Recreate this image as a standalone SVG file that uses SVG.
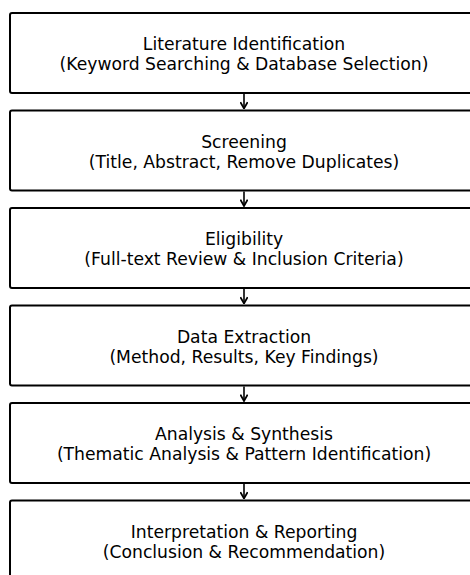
<svg xmlns="http://www.w3.org/2000/svg" width="470" height="575" viewBox="0 0 470 575">
<defs>
<style>
.box{fill:#fff;stroke:#000;stroke-width:2}
.t{font-family:"DejaVu Sans",sans-serif;font-size:17.2px;fill:#000;text-anchor:middle}
.c{stroke:#000;stroke-width:1.6;fill:none}
</style>
<marker id="ah" viewBox="0 0 10 10" refX="9" refY="5" markerWidth="8" markerHeight="8" orient="auto" markerUnits="userSpaceOnUse">
<path d="M1,0.5 L9,5 L1,9.5" fill="none" stroke="#000" stroke-width="2.2" stroke-linejoin="miter"/>
</marker>
</defs>
<rect width="470" height="575" fill="#fff"/>
<g id="connectors">
<line class="c" x1="244" y1="94" x2="244" y2="108.5" marker-end="url(#ah)"/>
<line class="c" x1="244" y1="191.5" x2="244" y2="206" marker-end="url(#ah)"/>
<line class="c" x1="244" y1="289" x2="244" y2="303.5" marker-end="url(#ah)"/>
<line class="c" x1="244" y1="386.5" x2="244" y2="401" marker-end="url(#ah)"/>
<line class="c" x1="244" y1="484" x2="244" y2="498.5" marker-end="url(#ah)"/>
</g>
<g id="n1"><rect class="box" x="10" y="13" width="470" height="80" rx="2"/>
<text class="t" x="244" y="50">Literature Identification</text>
<text class="t" x="244" y="70">(Keyword Searching &amp; Database Selection)</text></g>
<g id="n2"><rect class="box" x="10" y="110.5" width="470" height="80" rx="2"/>
<text class="t" x="244" y="147.5">Screening</text>
<text class="t" x="244" y="167.5">(Title, Abstract, Remove Duplicates)</text></g>
<g id="n3"><rect class="box" x="10" y="208" width="470" height="80" rx="2"/>
<text class="t" x="244" y="245">Eligibility</text>
<text class="t" x="244" y="265">(Full-text Review &amp; Inclusion Criteria)</text></g>
<g id="n4"><rect class="box" x="10" y="305.5" width="470" height="80" rx="2"/>
<text class="t" x="244" y="342.5">Data Extraction</text>
<text class="t" x="244" y="362.5">(Method, Results, Key Findings)</text></g>
<g id="n5"><rect class="box" x="10" y="403" width="470" height="80" rx="2"/>
<text class="t" x="244" y="440">Analysis &amp; Synthesis</text>
<text class="t" x="244" y="460">(Thematic Analysis &amp; Pattern Identification)</text></g>
<g id="n6"><rect class="box" x="10" y="500.5" width="470" height="80" rx="2"/>
<text class="t" x="244" y="537.5">Interpretation &amp; Reporting</text>
<text class="t" x="244" y="557.5">(Conclusion &amp; Recommendation)</text></g>
</svg>
